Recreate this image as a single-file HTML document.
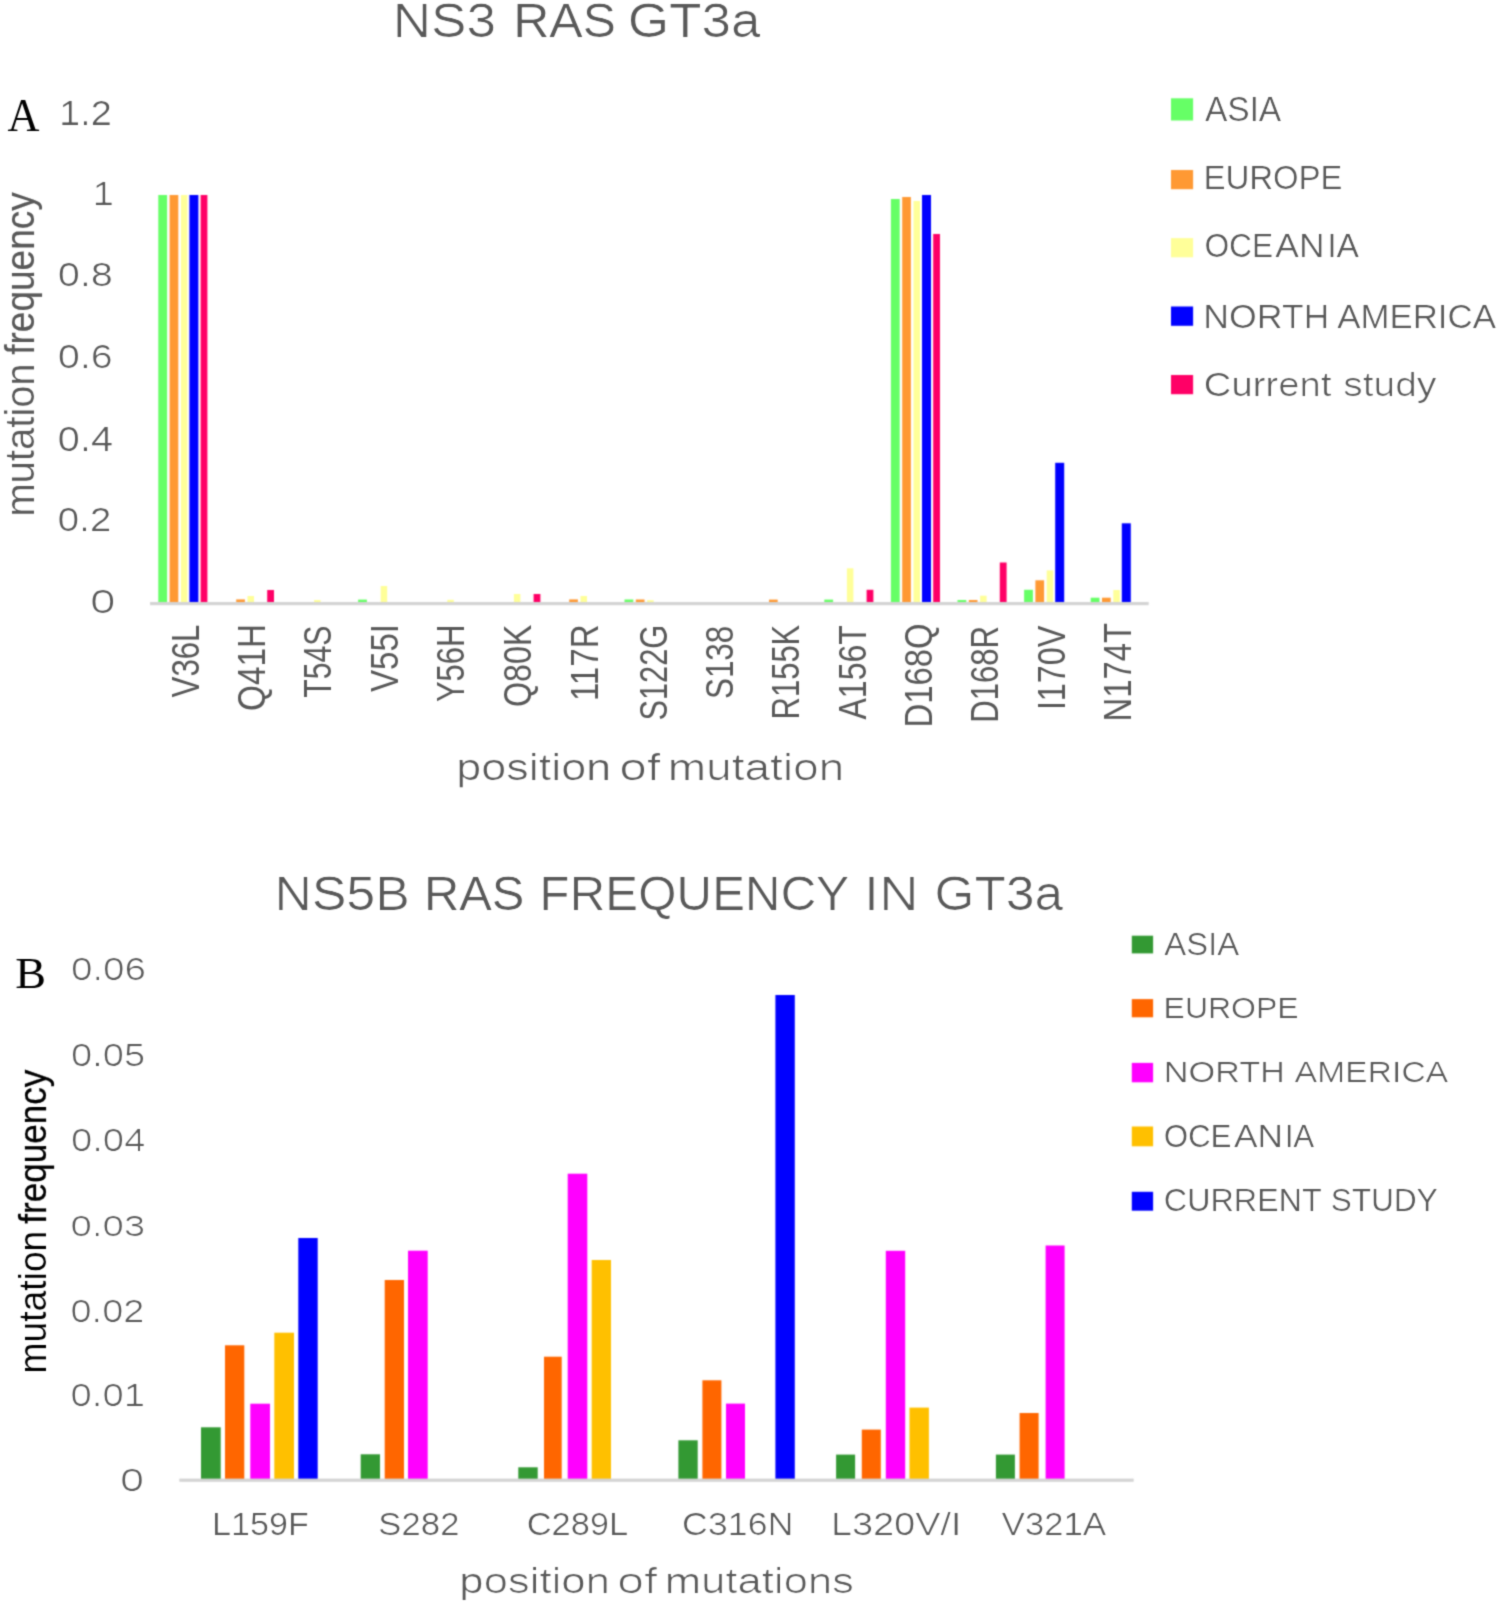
<!DOCTYPE html>
<html lang="en">
<head>
<meta charset="utf-8">
<title>NS3 / NS5B RAS frequency in GT3a</title>
<style>
html,body{margin:0;padding:0;background:#fff;}
body{width:1499px;height:1604px;overflow:hidden;font-family:"Liberation Sans",sans-serif;}
svg{display:block;}
text{font-size:100px;fill:#595959;white-space:pre;}
text.s{font-family:"Liberation Sans",sans-serif;}
text.f{font-family:"Liberation Serif",serif;}
</style>
</head>
<body>
<svg width="1499" height="1604" viewBox="0 0 1499 1604">
<defs>
<filter id="bs" x="0" y="0" width="1499" height="1604" filterUnits="userSpaceOnUse" color-interpolation-filters="sRGB"><feConvolveMatrix order="5" kernelMatrix="0.00009 0.00198 0.00548 0.00198 0.00009 0.00198 0.04220 0.11707 0.04220 0.00198 0.00548 0.11707 0.32480 0.11707 0.00548 0.00198 0.04220 0.11707 0.04220 0.00198 0.00009 0.00198 0.00548 0.00198 0.00009" edgeMode="none" preserveAlpha="false"/></filter>
<filter id="bt" x="0" y="0" width="1499" height="1604" filterUnits="userSpaceOnUse" color-interpolation-filters="sRGB"><feConvolveMatrix order="5" kernelMatrix="0.00001 0.00042 0.00170 0.00042 0.00001 0.00042 0.02740 0.10988 0.02740 0.00042 0.00170 0.10988 0.44065 0.10988 0.00170 0.00042 0.02740 0.10988 0.02740 0.00042 0.00001 0.00042 0.00170 0.00042 0.00001" edgeMode="none" preserveAlpha="false"/></filter>
<clipPath id="c0"><text class="s" x="0.86">NS3</text></clipPath>
<clipPath id="c1"><text class="s" x="0.63">RAS</text></clipPath>
<clipPath id="c2"><text class="s" x="0.87">GT3a</text></clipPath>
<clipPath id="c4"><text class="s" x="0.95">1.2</text></clipPath>
<clipPath id="c5"><text class="s" x="1.03">1</text></clipPath>
<clipPath id="c6"><text class="s" x="1.09">0.8</text></clipPath>
<clipPath id="c7"><text class="s" x="1.14">0.6</text></clipPath>
<clipPath id="c8"><text class="s" x="1.07">0.4</text></clipPath>
<clipPath id="c9"><text class="s" x="1.00">0.2</text></clipPath>
<clipPath id="c10"><text class="s" x="1.41">0</text></clipPath>
<clipPath id="c11"><text class="s" x="1.06">position</text></clipPath>
<clipPath id="c12"><text class="s" x="1.29">of</text></clipPath>
<clipPath id="c13"><text class="s" x="1.15">mutation</text></clipPath>
<clipPath id="c14"><text class="s" x="0.41">ASIA</text></clipPath>
<clipPath id="c15"><text class="s" x="0.45">EUROPE</text></clipPath>
<clipPath id="c16"><text class="s" x="0.33">OCE</text></clipPath>
<clipPath id="c17"><text class="s" x="0.77">AN</text></clipPath>
<clipPath id="c18"><text class="s" x="0.52">IA</text></clipPath>
<clipPath id="c19"><text class="s" x="0.81">NORTH</text></clipPath>
<clipPath id="c20"><text class="s" x="0.72">AMERICA</text></clipPath>
<clipPath id="c21"><text class="s" x="1.09">Current</text></clipPath>
<clipPath id="c22"><text class="s" x="1.14">study</text></clipPath>
<clipPath id="c23"><text class="s" x="0.35">mutation</text></clipPath>
<clipPath id="c40"><text class="s" x="0.89">NS5B</text></clipPath>
<clipPath id="c41"><text class="s" x="0.66">RAS</text></clipPath>
<clipPath id="c42"><text class="s" x="0.72">FREQUENCY</text></clipPath>
<clipPath id="c43"><text class="s" x="1.03">IN</text></clipPath>
<clipPath id="c44"><text class="s" x="0.86">GT3a</text></clipPath>
<clipPath id="c46"><text class="s" x="1.33">0.06</text></clipPath>
<clipPath id="c47"><text class="s" x="1.28">0.05</text></clipPath>
<clipPath id="c48"><text class="s" x="1.31">0.04</text></clipPath>
<clipPath id="c49"><text class="s" x="1.41">0.03</text></clipPath>
<clipPath id="c50"><text class="s" x="1.29">0.02</text></clipPath>
<clipPath id="c51"><text class="s" x="1.30">0.01</text></clipPath>
<clipPath id="c52"><text class="s" x="1.47">0</text></clipPath>
<clipPath id="c53"><text class="s" x="0.85">L159F</text></clipPath>
<clipPath id="c54"><text class="s" x="0.93">S282</text></clipPath>
<clipPath id="c55"><text class="s" x="0.89">C289L</text></clipPath>
<clipPath id="c56"><text class="s" x="1.03">C316N</text></clipPath>
<clipPath id="c57"><text class="s" x="1.22">L320V/I</text></clipPath>
<clipPath id="c58"><text class="s" x="0.93">V321A</text></clipPath>
<clipPath id="c59"><text class="s" x="1.24">position</text></clipPath>
<clipPath id="c60"><text class="s" x="1.46">of</text></clipPath>
<clipPath id="c61"><text class="s" x="1.24">mutations</text></clipPath>
<clipPath id="c62"><text class="s" x="0.82">ASIA</text></clipPath>
<clipPath id="c63"><text class="s" x="0.79">EUROPE</text></clipPath>
<clipPath id="c64"><text class="s" x="1.03">NORTH</text></clipPath>
<clipPath id="c65"><text class="s" x="0.97">AMERICA</text></clipPath>
<clipPath id="c66"><text class="s" x="0.44">OCE</text></clipPath>
<clipPath id="c67"><text class="s" x="0.90">AN</text></clipPath>
<clipPath id="c68"><text class="s" x="0.40">IA</text></clipPath>
<clipPath id="c69"><text class="s" x="0.60">CURRENT</text></clipPath>
<clipPath id="c70"><text class="s" x="0.50">STUDY</text></clipPath>
<clipPath id="c71"><text class="s" x="0.06">mutation</text></clipPath>
</defs>
<rect width="1499" height="1604" fill="#ffffff"/>
<g filter="url(#bs)">
<rect x="158.3" y="195" width="8.8" height="407.7" fill="#66ff66"/>
<rect x="169.6" y="195" width="8.7" height="407.7" fill="#ff9933"/>
<rect x="180.9" y="195" width="6.5" height="407.7" fill="#ffff99"/>
<rect x="189.4" y="195" width="9" height="407.7" fill="#0000ff"/>
<rect x="200.6" y="195" width="6.8" height="407.7" fill="#ff0066"/>
<rect x="236.2" y="599.4" width="8.7" height="3.3" fill="#ff9933"/>
<rect x="247.5" y="596" width="6.5" height="6.7" fill="#ffff99"/>
<rect x="267.2" y="590" width="6.8" height="12.7" fill="#ff0066"/>
<rect x="314.1" y="600" width="6.5" height="2.7" fill="#ffff99"/>
<rect x="358.1" y="599.6" width="8.8" height="3.1" fill="#66ff66"/>
<rect x="380.7" y="586" width="6.5" height="16.7" fill="#ffff99"/>
<rect x="447.3" y="599.8" width="6.5" height="2.9" fill="#ffff99"/>
<rect x="513.9" y="594" width="6.5" height="8.7" fill="#ffff99"/>
<rect x="533.6" y="594" width="6.8" height="8.7" fill="#ff0066"/>
<rect x="569.2" y="599.4" width="8.7" height="3.3" fill="#ff9933"/>
<rect x="580.5" y="596" width="6.5" height="6.7" fill="#ffff99"/>
<rect x="624.5" y="599.5" width="8.8" height="3.2" fill="#66ff66"/>
<rect x="635.8" y="599.5" width="8.7" height="3.2" fill="#ff9933"/>
<rect x="647.1" y="600.2" width="6.5" height="2.5" fill="#ffff99"/>
<rect x="769" y="599.6" width="8.7" height="3.1" fill="#ff9933"/>
<rect x="824.3" y="599.6" width="8.8" height="3.1" fill="#66ff66"/>
<rect x="846.9" y="568.3" width="6.5" height="34.4" fill="#ffff99"/>
<rect x="866.6" y="589.8" width="6.8" height="12.9" fill="#ff0066"/>
<rect x="890.9" y="199" width="8.8" height="403.7" fill="#66ff66"/>
<rect x="902.2" y="197" width="8.7" height="405.7" fill="#ff9933"/>
<rect x="913.5" y="201" width="6.5" height="401.7" fill="#ffff99"/>
<rect x="922" y="195" width="9" height="407.7" fill="#0000ff"/>
<rect x="933.2" y="234" width="6.8" height="368.7" fill="#ff0066"/>
<rect x="957.5" y="600" width="8.8" height="2.7" fill="#66ff66"/>
<rect x="968.8" y="600" width="8.7" height="2.7" fill="#ff9933"/>
<rect x="980.1" y="595.7" width="6.5" height="7" fill="#ffff99"/>
<rect x="999.8" y="562.5" width="6.8" height="40.2" fill="#ff0066"/>
<rect x="1024.1" y="589.8" width="8.8" height="12.9" fill="#66ff66"/>
<rect x="1035.4" y="580.3" width="8.7" height="22.4" fill="#ff9933"/>
<rect x="1046.7" y="570.4" width="6.5" height="32.3" fill="#ffff99"/>
<rect x="1055.2" y="462.8" width="9" height="139.9" fill="#0000ff"/>
<rect x="1090.7" y="597.7" width="8.8" height="5" fill="#66ff66"/>
<rect x="1102" y="597.7" width="8.7" height="5" fill="#ff9933"/>
<rect x="1113.3" y="590" width="6.5" height="12.7" fill="#ffff99"/>
<rect x="1121.8" y="523.3" width="9" height="79.4" fill="#0000ff"/>
<rect x="150" y="602" width="998.7" height="3.2" fill="#d4d4d4"/>
<rect x="1171" y="98.3" width="22.1" height="22.2" fill="#66ff66"/>
<rect x="1171" y="170" width="22.1" height="19.2" fill="#ff9933"/>
<rect x="1171" y="238.1" width="22.1" height="19.2" fill="#ffff99"/>
<rect x="1171" y="306.5" width="22.1" height="19.3" fill="#0000ff"/>
<rect x="1171" y="375" width="22.1" height="19.2" fill="#ff0066"/>
<rect x="201" y="1427.3" width="19.7" height="51.8" fill="#339933"/>
<rect x="225" y="1345.3" width="19.3" height="133.8" fill="#ff6600"/>
<rect x="250.3" y="1403.7" width="19.7" height="75.4" fill="#ff00ff"/>
<rect x="274.3" y="1332.7" width="19.7" height="146.4" fill="#ffc000"/>
<rect x="298.3" y="1238" width="19.4" height="241.1" fill="#0000ff"/>
<rect x="360.7" y="1454.3" width="19.3" height="24.8" fill="#339933"/>
<rect x="384.7" y="1280" width="19.3" height="199.1" fill="#ff6600"/>
<rect x="408" y="1250.7" width="19.7" height="228.4" fill="#ff00ff"/>
<rect x="518.3" y="1467.3" width="19.4" height="11.8" fill="#339933"/>
<rect x="544" y="1356.7" width="17.7" height="122.4" fill="#ff6600"/>
<rect x="567.7" y="1173.7" width="19.6" height="305.4" fill="#ff00ff"/>
<rect x="591.7" y="1260" width="19.3" height="219.1" fill="#ffc000"/>
<rect x="678.4" y="1440.3" width="19.3" height="38.8" fill="#339933"/>
<rect x="702.4" y="1380.3" width="19" height="98.8" fill="#ff6600"/>
<rect x="726" y="1403.6" width="19" height="75.5" fill="#ff00ff"/>
<rect x="775.4" y="995" width="19.4" height="484.1" fill="#0000ff"/>
<rect x="836.1" y="1454.6" width="19" height="24.5" fill="#339933"/>
<rect x="861.8" y="1429.6" width="19" height="49.5" fill="#ff6600"/>
<rect x="885.8" y="1250.8" width="19.4" height="228.3" fill="#ff00ff"/>
<rect x="909.5" y="1407.6" width="19.4" height="71.5" fill="#ffc000"/>
<rect x="995.9" y="1454.6" width="19" height="24.5" fill="#339933"/>
<rect x="1019.6" y="1413" width="19" height="66.1" fill="#ff6600"/>
<rect x="1045.6" y="1245.5" width="19" height="233.6" fill="#ff00ff"/>
<rect x="179.3" y="1478.6" width="954.4" height="3.2" fill="#d4d4d4"/>
<rect x="1131.8" y="935.7" width="21.3" height="17.7" fill="#339933"/>
<rect x="1131.8" y="999.1" width="21.3" height="18.2" fill="#ff6600"/>
<rect x="1131.8" y="1062.9" width="21.3" height="19.4" fill="#ff00ff"/>
<rect x="1131.8" y="1126.5" width="21.3" height="19.8" fill="#ffc000"/>
<rect x="1131.8" y="1191.8" width="21.3" height="18.9" fill="#0000ff"/>
</g>
<g filter="url(#bt)">
<text class="s" x="-0.86" transform="matrix(0.5311 0 0 0.4864 392.69 36.50)" clip-path="url(#c0)">NS3</text>
<text class="s" x="-0.63" transform="matrix(0.4997 0 0 0.4864 513.18 36.50)" clip-path="url(#c1)">RAS</text>
<text class="s" x="-0.87" transform="matrix(0.5301 0 0 0.4864 627.86 36.50)" clip-path="url(#c2)">GT3a</text>
<text class="f" transform="matrix(0.4424 0 0 0.4673 7.60 131.40)" style="fill:#000">A</text>
<text class="s" x="-0.95" transform="matrix(0.3785 0 0 0.3428 59.17 124.90)" clip-path="url(#c4)">1.2</text>
<text class="s" x="-1.03" transform="matrix(0.3861 0 0 0.3314 92.49 204.90)" clip-path="url(#c5)">1</text>
<text class="s" x="-1.09" transform="matrix(0.3941 0 0 0.3353 57.94 286.38)" clip-path="url(#c6)">0.8</text>
<text class="s" x="-1.14" transform="matrix(0.3944 0 0 0.3311 57.92 368.48)" clip-path="url(#c7)">0.6</text>
<text class="s" x="-1.07" transform="matrix(0.3992 0 0 0.3423 57.63 451.07)" clip-path="url(#c8)">0.4</text>
<text class="s" x="-1.00" transform="matrix(0.3866 0 0 0.3381 57.71 531.07)" clip-path="url(#c9)">0.2</text>
<text class="s" x="-1.41" transform="matrix(0.4557 0 0 0.3395 90.23 613.17)" clip-path="url(#c10)">0</text>
<text class="s" x="-1.06" transform="matrix(0.4491 0 0 0.3746 456.32 779.50)" clip-path="url(#c11)">position</text>
<text class="s" x="-1.29" transform="matrix(0.4921 0 0 0.3746 619.43 779.50)" clip-path="url(#c12)">of</text>
<text class="s" x="-1.15" transform="matrix(0.4602 0 0 0.3746 667.79 779.50)" clip-path="url(#c13)">mutation</text>
<text class="s" x="-0.41" transform="matrix(0.3327 0 0 0.3428 1205.16 120.60)" clip-path="url(#c14)">ASIA</text>
<text class="s" x="-0.45" transform="matrix(0.3285 0 0 0.3356 1203.68 189.30)" clip-path="url(#c15)">EUROPE</text>
<text class="s" x="-0.33" transform="matrix(0.3157 0 0 0.3314 1204.62 257.20)" clip-path="url(#c16)">OCE</text>
<text class="s" x="-0.77" transform="matrix(0.3536 0 0 0.3314 1275.33 257.20)" clip-path="url(#c17)">AN</text>
<text class="s" x="-0.52" transform="matrix(0.3333 0 0 0.3314 1327.42 257.20)" clip-path="url(#c18)">IA</text>
<text class="s" x="-0.81" transform="matrix(0.3564 0 0 0.3328 1203.33 328.00)" clip-path="url(#c19)">NORTH</text>
<text class="s" x="-0.72" transform="matrix(0.3482 0 0 0.3328 1337.25 328.00)" clip-path="url(#c20)">AMERICA</text>
<text class="s" x="-1.09" transform="matrix(0.3833 0 0 0.3314 1203.69 396.00)" clip-path="url(#c21)">Current</text>
<text class="s" x="-1.14" transform="matrix(0.3895 0 0 0.3314 1343.25 396.00)" clip-path="url(#c22)">study</text>
<text class="s" x="-0.35" transform="matrix(0 -0.3996 0.3994 0 34.30 516.56)" clip-path="url(#c23)" style="stroke:#595959;stroke-width:0.40px">mutation</text>
<text class="s" transform="matrix(0 -0.3706 0.3994 0 34.30 354.83)" style="stroke:#595959;stroke-width:0.40px">frequency</text>
<text class="s" transform="matrix(0 -0.3120 0.3897 0 199.05 697.40)">V36L</text>
<text class="s" transform="matrix(0 -0.3329 0.3897 0 264.95 710.96)">Q41H</text>
<text class="s" transform="matrix(0 -0.3031 0.3897 0 331.45 697.87)">T54S</text>
<text class="s" transform="matrix(0 -0.3305 0.3897 0 398.20 692.00)">V55I</text>
<text class="s" transform="matrix(0 -0.3103 0.3897 0 464.40 702.08)">Y56H</text>
<text class="s" transform="matrix(0 -0.3225 0.3897 0 531.00 707.11)">Q80K</text>
<text class="s" transform="matrix(0 -0.3307 0.3897 0 597.70 701.07)">117R</text>
<text class="s" transform="matrix(0 -0.3079 0.3897 0 666.70 720.56)">S122G</text>
<text class="s" transform="matrix(0 -0.3136 0.3897 0 732.70 698.98)">S138</text>
<text class="s" transform="matrix(0 -0.3099 0.3897 0 799.00 719.42)">R155K</text>
<text class="s" transform="matrix(0 -0.3209 0.3897 0 865.70 719.60)">A156T</text>
<text class="s" transform="matrix(0 -0.3282 0.3897 0 931.90 727.56)">D168Q</text>
<text class="s" transform="matrix(0 -0.3113 0.3897 0 998.20 722.83)">D168R</text>
<text class="s" transform="matrix(0 -0.3228 0.3897 0 1065.20 710.12)">I170V</text>
<text class="s" transform="matrix(0 -0.3283 0.3897 0 1131.20 721.56)">N174T</text>
<text class="s" x="-0.89" transform="matrix(0.5177 0 0 0.4722 274.50 910.40)" clip-path="url(#c40)">NS5B</text>
<text class="s" x="-0.66" transform="matrix(0.4883 0 0 0.4722 423.96 910.40)" clip-path="url(#c41)">RAS</text>
<text class="s" x="-0.72" transform="matrix(0.4934 0 0 0.4722 539.39 910.40)" clip-path="url(#c42)">FREQUENCY</text>
<text class="s" x="-1.03" transform="matrix(0.5478 0 0 0.4722 863.85 910.40)" clip-path="url(#c43)">IN</text>
<text class="s" x="-0.86" transform="matrix(0.5137 0 0 0.4722 934.55 910.40)" clip-path="url(#c44)">GT3a</text>
<text class="f" transform="matrix(0.4611 0 0 0.4406 15.18 987.61)" style="fill:#000">B</text>
<text class="s" x="-1.33" transform="matrix(0.3864 0 0 0.3075 70.88 980.32)" clip-path="url(#c46)">0.06</text>
<text class="s" x="-1.28" transform="matrix(0.3813 0 0 0.3089 70.92 1066.12)" clip-path="url(#c47)">0.05</text>
<text class="s" x="-1.31" transform="matrix(0.3830 0 0 0.3075 70.90 1150.52)" clip-path="url(#c48)">0.04</text>
<text class="s" x="-1.41" transform="matrix(0.3845 0 0 0.2991 70.46 1236.33)" clip-path="url(#c49)">0.03</text>
<text class="s" x="-1.29" transform="matrix(0.3792 0 0 0.3061 70.53 1321.52)" clip-path="url(#c50)">0.02</text>
<text class="s" x="-1.30" transform="matrix(0.3825 0 0 0.3075 70.51 1405.82)" clip-path="url(#c51)">0.01</text>
<text class="s" x="-1.47" transform="matrix(0.4292 0 0 0.3130 120.13 1491.31)" clip-path="url(#c52)">0</text>
<text class="s" x="-0.85" transform="matrix(0.3413 0 0 0.3143 212.04 1535.20)" clip-path="url(#c53)">L159F</text>
<text class="s" x="-0.93" transform="matrix(0.3488 0 0 0.3143 378.09 1535.20)" clip-path="url(#c54)">S282</text>
<text class="s" x="-0.89" transform="matrix(0.3444 0 0 0.3143 526.68 1535.20)" clip-path="url(#c55)">C289L</text>
<text class="s" x="-1.03" transform="matrix(0.3580 0 0 0.3143 681.95 1535.20)" clip-path="url(#c56)">C316N</text>
<text class="s" x="-1.22" transform="matrix(0.3780 0 0 0.3143 831.08 1535.20)" clip-path="url(#c57)">L320V/I</text>
<text class="s" x="-0.93" transform="matrix(0.3483 0 0 0.3143 1001.58 1535.20)" clip-path="url(#c58)">V321A</text>
<text class="s" x="-1.24" transform="matrix(0.4368 0 0 0.3464 459.33 1592.90)" clip-path="url(#c59)">position</text>
<text class="s" x="-1.46" transform="matrix(0.4800 0 0 0.3464 617.30 1592.90)" clip-path="url(#c60)">of</text>
<text class="s" x="-1.24" transform="matrix(0.4366 0 0 0.3464 664.73 1592.90)" clip-path="url(#c61)">mutations</text>
<text class="s" x="-0.82" transform="matrix(0.3282 0 0 0.3044 1164.33 955.10)" clip-path="url(#c62)">ASIA</text>
<text class="s" x="-0.79" transform="matrix(0.3198 0 0 0.3001 1163.55 1018.40)" clip-path="url(#c63)">EUROPE</text>
<text class="s" x="-1.03" transform="matrix(0.3426 0 0 0.3015 1163.77 1082.20)" clip-path="url(#c64)">NORTH</text>
<text class="s" x="-0.97" transform="matrix(0.3369 0 0 0.3015 1294.67 1082.20)" clip-path="url(#c65)">AMERICA</text>
<text class="s" x="-0.44" transform="matrix(0.3117 0 0 0.3186 1163.90 1147.10)" clip-path="url(#c66)">OCE</text>
<text class="s" x="-0.90" transform="matrix(0.3528 0 0 0.3186 1233.98 1147.10)" clip-path="url(#c67)">AN</text>
<text class="s" x="-0.40" transform="matrix(0.3103 0 0 0.3186 1284.85 1147.10)" clip-path="url(#c68)">IA</text>
<text class="s" x="-0.60" transform="matrix(0.3231 0 0 0.3186 1163.79 1211.10)" clip-path="url(#c69)">CURRENT</text>
<text class="s" x="-0.50" transform="matrix(0.3158 0 0 0.3186 1330.75 1211.10)" clip-path="url(#c70)">STUDY</text>
<text class="s" x="-0.06" transform="matrix(0 -0.3721 0.3964 0 45.90 1373.42)" clip-path="url(#c71)" style="fill:#000;stroke:#000;stroke-width:0.70px">mutation</text>
<text class="s" transform="matrix(0 -0.3506 0.3964 0 45.90 1223.68)" style="fill:#000;stroke:#000;stroke-width:0.70px">frequency</text>
</g>
</svg>
</body>
</html>
